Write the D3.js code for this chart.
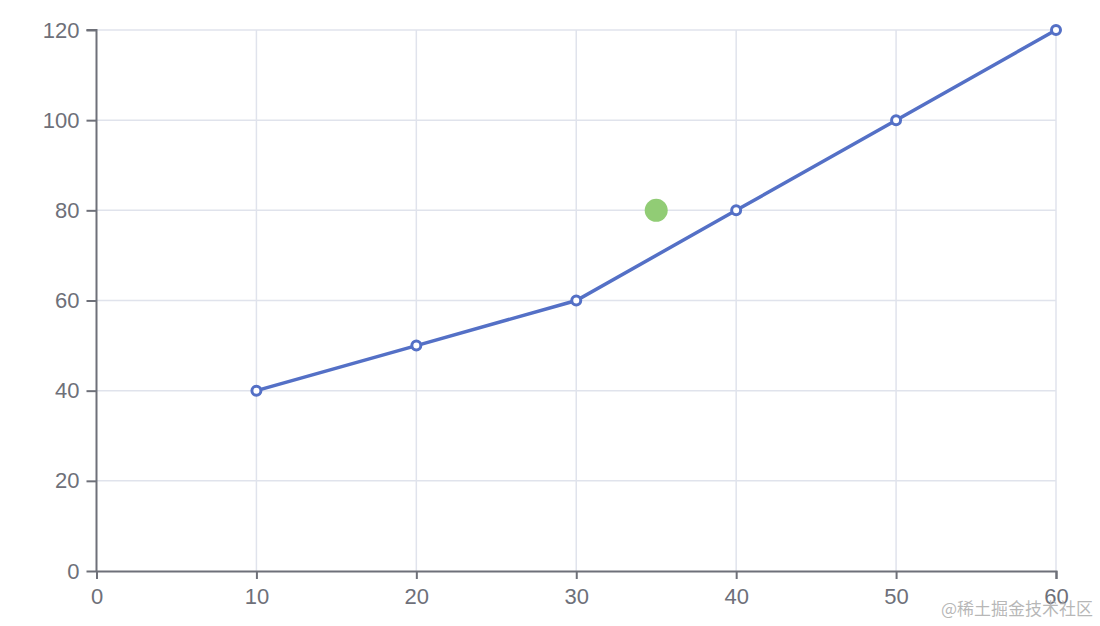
<!DOCTYPE html>
<html>
<head>
<meta charset="utf-8">
<script src="https://cdn.jsdelivr.net/npm/d3@7"></script>
<style>
  body { margin: 0; background: #fff; }
  svg { display: block; font-family: "Helvetica Neue", Arial, "Liberation Sans", sans-serif; }
</style>
</head>
<body>
<script>
var xTicks = [0, 10, 20, 30, 40, 50, 60];
var yTicks = [0, 20, 40, 60, 80, 100, 120];
var lineData = [[10, 40], [20, 50], [30, 60], [40, 80], [50, 100], [60, 120]];
var scatterData = [[35, 80]];

var W = 1100, H = 626;
var margin = { top: 30, right: 44, bottom: 55, left: 96.5 };
var width = 1056 - margin.left;
var height = 571 - margin.top;

var x = d3.scaleLinear().domain([0, 60]).range([0, width]);
var y = d3.scaleLinear().domain([0, 120]).range([height, 0]);

var svg = d3.select('body').append('svg')
    .attr('width', W)
    .attr('height', H);

var g = svg.append('g')
    .attr('transform', 'translate(' + margin.left + ',' + margin.top + ')');

// grid
g.selectAll('.hgrid')
    .data(yTicks.slice(1))
  .enter().append('line')
    .attr('x1', 0).attr('x2', width)
    .attr('y1', function(d) { return y(d); })
    .attr('y2', function(d) { return y(d); })
    .attr('stroke', '#E0E3EC').attr('stroke-width', 1.5);

g.selectAll('.vgrid')
    .data(xTicks.slice(1))
  .enter().append('line')
    .attr('y1', 0).attr('y2', height)
    .attr('x1', function(d) { return x(d); })
    .attr('x2', function(d) { return x(d); })
    .attr('stroke', '#E0E3EC').attr('stroke-width', 1.5);

// axes
var xAxis = d3.axisBottom(x).tickValues(xTicks).tickSize(8).tickPadding(9);
var yAxis = d3.axisLeft(y).tickValues(yTicks).tickSize(10).tickPadding(7);

var gx = g.append('g')
    .attr('transform', 'translate(0,' + height + ')')
    .call(xAxis);
var gy = g.append('g').call(yAxis);

[gx, gy].forEach(function(a) {
  a.select('.domain').attr('stroke', '#6E7079').attr('stroke-width', 2);
  a.selectAll('.tick line').attr('stroke', '#6E7079').attr('stroke-width', 2);
  a.selectAll('.tick text')
      .attr('fill', '#6E7079')
      .style('font-size', '22px');
});
gy.select('.domain').attr('d', 'M0,' + height + 'V0H-10');

// line
var line = d3.line()
    .x(function(d) { return x(d[0]); })
    .y(function(d) { return y(d[1]); });

g.append('path')
    .datum(lineData)
    .attr('fill', 'none')
    .attr('stroke', '#5470C6')
    .attr('stroke-width', 3.5)
    .attr('d', line);

g.selectAll('.pt')
    .data(lineData)
  .enter().append('circle')
    .attr('cx', function(d) { return x(d[0]); })
    .attr('cy', function(d) { return y(d[1]); })
    .attr('r', 4.5)
    .attr('fill', '#fff')
    .attr('stroke', '#5470C6')
    .attr('stroke-width', 3);

g.selectAll('.sc')
    .data(scatterData)
  .enter().append('circle')
    .attr('cx', function(d) { return x(d[0]); })
    .attr('cy', function(d) { return y(d[1]); })
    .attr('r', 11.5)
    .attr('fill', '#91CC75');

// watermark
svg.append('text')
    .attr('x', 1093)
    .attr('y', 615)
    .attr('text-anchor', 'end')
    .attr('fill', '#aaaaaa')
    .attr('fill-opacity', 0.85)
    .style('font-family', '"Noto Sans CJK SC", sans-serif')
    .style('font-size', '17px')
    .text('@稀土掘金技术社区');
</script>
</body>
</html>
